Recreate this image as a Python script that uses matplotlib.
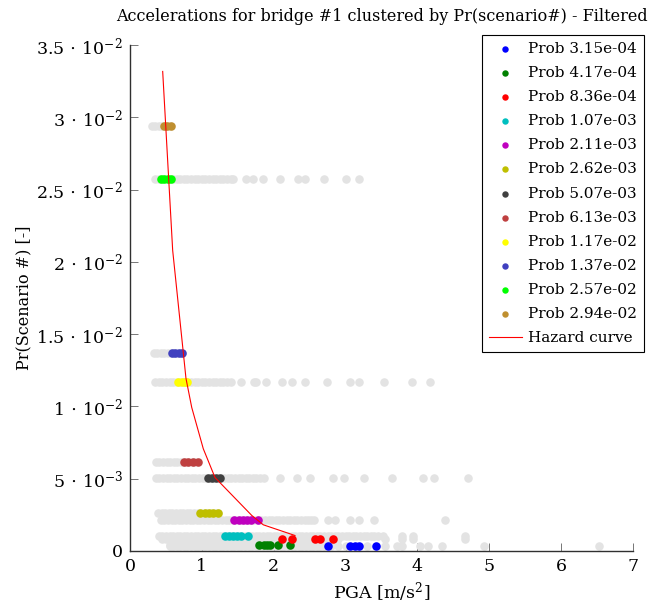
import matplotlib
matplotlib.use("Agg")
import matplotlib.pyplot as plt

plt.rcParams['font.family'] = ['DejaVu Serif']
plt.rcParams['mathtext.fontset'] = 'dejavuserif'

# Probability level of each scenario cluster
levels = [3.15e-4, 4.17e-4, 8.36e-4, 1.07e-3, 2.11e-3, 2.62e-3,
          5.07e-3, 6.13e-3, 1.17e-2, 1.37e-2, 2.57e-2, 2.94e-2]

# All accelerations (PGA, m/s^2) for each level, before filtering
all_315 = [0.55, 0.60, 0.65, 0.70, 0.75, 0.80, 0.85, 0.90, 0.95, 1.00, 1.05, 1.10,
           1.15, 1.20, 1.25, 1.30, 1.35, 1.40, 1.45, 1.50, 1.55, 1.60, 1.65, 1.70,
           1.75, 1.80, 1.85, 1.90, 1.95, 2.00, 2.05, 2.10, 2.15, 2.20, 2.25, 2.30,
           2.35, 2.40, 2.45, 2.50, 2.55, 2.60, 2.65, 2.70, 2.80, 2.90, 3.00, 3.30,
           3.55, 3.71, 3.78, 4.04, 4.15, 4.34, 4.92, 6.52]
all_417 = [0.55, 0.60, 0.65, 0.70, 0.75, 0.80, 0.85, 0.90, 0.95, 1.00, 1.05, 1.10,
           1.15, 1.20, 1.25, 1.30, 1.35, 1.40, 1.45, 1.50, 1.55, 1.60, 1.65, 1.70,
           1.75, 1.80, 1.85, 1.90, 1.95, 2.00, 2.05, 2.10, 2.15, 2.20, 2.25, 2.30]
all_836 = [0.45, 0.50, 0.55, 0.60, 0.65, 0.70, 0.75, 0.80, 0.85, 0.90, 0.95, 1.00,
           1.05, 1.10, 1.15, 1.20, 1.25, 1.30, 1.35, 1.40, 1.45, 1.50, 1.55, 1.60,
           1.65, 1.70, 1.75, 1.80, 1.85, 1.90, 1.95, 2.00, 2.05, 2.10, 2.15, 2.20,
           2.25, 2.30, 2.35, 2.40, 2.45, 2.50, 2.55, 2.60, 2.65, 2.70, 2.75, 2.80,
           2.85, 2.90, 3.55, 3.78, 3.94, 4.66]
all_107 = [0.40, 0.45, 0.50, 0.55, 0.60, 0.65, 0.70, 0.75, 0.80, 0.85, 0.90, 0.95,
           1.00, 1.05, 1.10, 1.15, 1.20, 1.25, 1.30, 1.35, 1.40, 1.45, 1.50, 1.55,
           1.60, 1.65, 1.70, 1.75, 1.80, 1.85, 1.90, 1.95, 2.00, 2.05, 2.10, 2.15,
           2.20, 2.25, 2.30, 2.35, 2.40, 2.45, 2.50, 2.55, 2.60, 2.65, 2.70, 2.75,
           2.80, 2.85, 2.90, 2.95, 3.00, 3.05, 3.10, 3.15, 3.20, 3.25, 3.30, 3.35,
           3.40, 3.45, 3.52, 3.78, 3.94, 4.66]
all_211 = [0.43, 0.48, 0.53, 0.58, 0.63, 0.68, 0.73, 0.78, 0.83, 0.88, 0.93, 0.98,
           1.03, 1.08, 1.13, 1.18, 1.23, 1.28, 1.33, 1.38, 1.43, 1.48, 1.53, 1.58,
           1.63, 1.68, 1.73, 1.78, 1.83, 1.88, 1.93, 1.98, 2.03, 2.08, 2.13, 2.18,
           2.23, 2.28, 2.33, 2.38, 2.43, 2.48, 2.52, 2.56, 2.76, 2.85, 3.06, 3.18,
           3.40, 4.38]
all_262 = [0.39, 0.44, 0.49, 0.54, 0.59, 0.64, 0.69, 0.74, 0.79, 0.84, 0.89, 0.94,
           0.99, 1.04, 1.09, 1.14, 1.19, 1.23]
all_507 = [0.36, 0.41, 0.46, 0.51, 0.56, 0.61, 0.66, 0.71, 0.76, 0.81, 0.86, 0.91,
           0.96, 1.01, 1.06, 1.11, 1.16, 1.21, 1.26, 1.31, 1.36, 1.41, 1.46, 1.51,
           1.56, 1.61, 1.66, 1.71, 1.76, 1.81, 1.87, 2.09, 2.32, 2.50, 2.83, 2.98,
           3.25, 3.64, 4.08, 4.23, 4.71]
all_613 = [0.36, 0.41, 0.46, 0.51, 0.56, 0.61, 0.66, 0.71, 0.76, 0.81, 0.86, 0.91]
all_117 = [0.35, 0.40, 0.45, 0.50, 0.55, 0.60, 0.65, 0.70, 0.75, 0.80, 0.85, 0.90,
           0.95, 1.00, 1.05, 1.10, 1.15, 1.20, 1.25, 1.30, 1.35, 1.40, 1.55, 1.72,
           1.76, 1.89, 2.12, 2.25, 2.44, 2.74, 3.06, 3.19, 3.54, 3.92, 4.17]
all_137 = [0.33, 0.38, 0.43, 0.48, 0.53, 0.58, 0.63, 0.68, 0.72]
all_257 = [0.35, 0.40, 0.45, 0.50, 0.55, 0.60, 0.65, 0.70, 0.75, 0.80, 0.85, 0.90,
           0.95, 1.00, 1.05, 1.10, 1.15, 1.20, 1.25, 1.30, 1.35, 1.40, 1.43, 1.61,
           1.71, 1.85, 2.09, 2.34, 2.43, 2.70, 3.00, 3.18]
all_294 = [0.31, 0.35, 0.40, 0.45, 0.50, 0.55]

# Accelerations kept after filtering, per level
kept_315 = [2.76, 3.06, 3.13, 3.19, 3.42]
kept_417 = [1.79, 1.86, 1.90, 1.95, 2.06, 2.23]
kept_836 = [2.11, 2.26, 2.57, 2.64, 2.83]
kept_107 = [1.32, 1.38, 1.43, 1.49, 1.55, 1.64]
kept_211 = [1.45, 1.51, 1.57, 1.63, 1.68, 1.78]
kept_262 = [0.98, 1.04, 1.10, 1.16, 1.23]
kept_507 = [1.08, 1.14, 1.20, 1.25]
kept_613 = [0.75, 0.81, 0.88, 0.94]
kept_117 = [0.67, 0.72, 0.76, 0.80]
kept_137 = [0.58, 0.63, 0.68, 0.72]
kept_257 = [0.43, 0.48, 0.53, 0.57]
kept_294 = [0.47, 0.52, 0.57]

# Hazard curve
hazard_pga = [0.455, 0.594, 0.779, 0.859, 1.020, 1.183, 1.694, 1.855, 2.296]
hazard_prob = [0.03317, 0.02079, 0.01194, 0.00993, 0.00707, 0.00508, 0.00246,
               0.00181, 0.00107]

all_rows = [all_315, all_417, all_836, all_107, all_211, all_262,
            all_507, all_613, all_117, all_137, all_257, all_294]
kept_rows = [kept_315, kept_417, kept_836, kept_107, kept_211, kept_262,
             kept_507, kept_613, kept_117, kept_137, kept_257, kept_294]
labels = ['Prob 3.15e-04', 'Prob 4.17e-04', 'Prob 8.36e-04', 'Prob 1.07e-03',
          'Prob 2.11e-03', 'Prob 2.62e-03', 'Prob 5.07e-03', 'Prob 6.13e-03',
          'Prob 1.17e-02', 'Prob 1.37e-02', 'Prob 2.57e-02', 'Prob 2.94e-02']
colors = ['#0000ff', '#008000', '#ff0000', '#00bfbf', '#bf00bf', '#bfbf00',
          '#404040', '#bf4040', '#ffff00', '#4040bf', '#00ff00', '#bf8f30']

yticks = [0, 0.005, 0.01, 0.015, 0.02, 0.025, 0.03, 0.035]
ytick_labels = ['$0$', r'$5\,\cdot\,10^{-3}$', r'$1\,\cdot\,10^{-2}$',
                r'$1.5\,\cdot\,10^{-2}$', r'$2\,\cdot\,10^{-2}$',
                r'$2.5\,\cdot\,10^{-2}$', r'$3\,\cdot\,10^{-2}$',
                r'$3.5\,\cdot\,10^{-2}$']
xticks = [0, 1, 2, 3, 4, 5, 6, 7]

fig = plt.figure(figsize=(6.48, 6.07), dpi=100)
ax = fig.add_axes([0.2006, 0.0923, 0.7763, 0.8336])

msize = 38
for lvl, xs in zip(levels, all_rows):
    ax.scatter(xs, [lvl] * len(xs), s=msize, color='#e3e3e3', linewidths=0,
               zorder=2)
for lvl, xs, c, lab in zip(levels, kept_rows, colors, labels):
    ax.scatter(xs, [lvl] * len(xs), s=msize, color=c, linewidths=0, zorder=3,
               label=lab)
ax.plot(hazard_pga, hazard_prob, color='#ff0000', lw=0.8, zorder=4,
        label='Hazard curve')

ax.set_xlim(0, 7)
ax.set_ylim(0, 0.035)
ax.set_xticks(xticks)
ax.set_xticklabels([str(t) for t in xticks])
ax.set_yticks(yticks)
ax.set_yticklabels(ytick_labels)
ax.tick_params(direction='in', length=6, width=0.6, color='#606060',
               labelsize=12.5, pad=5)
for side in ('top', 'right'):
    ax.spines[side].set_visible(False)
for side in ('left', 'bottom'):
    ax.spines[side].set_linewidth(1.0)
    ax.spines[side].set_color('#303030')

ax.set_xlabel(r'PGA [m/s$^2$]', fontsize=12.5, labelpad=4)
ax.set_ylabel('Pr(Scenario #) [-]', fontsize=11.5, labelpad=3)
ax.set_title('Accelerations for bridge #1 clustered by Pr(scenario#) - Filtered',
             fontsize=11.5, pad=17)

leg = ax.legend(loc='upper right', bbox_to_anchor=(0.994, 0.942),
                bbox_transform=fig.transFigure, borderaxespad=0,
                fontsize=11, markerscale=0.75, handlelength=2.2,
                labelspacing=0.66, fancybox=False, framealpha=1,
                edgecolor='black', borderpad=0.45, handletextpad=0.4)
leg.get_frame().set_linewidth(0.8)

fig.savefig('out.png', dpi=100)
